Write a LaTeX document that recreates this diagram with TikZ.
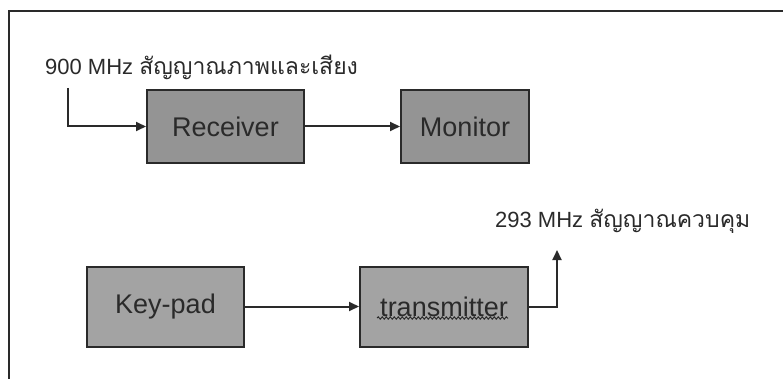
\documentclass[tikz,border=0pt]{standalone}
\usepackage{fontspec}
\setmainfont{Liberation Sans}
\newfontfamily\thaifont[Script=Thai]{Loma}
\usetikzlibrary{arrows.meta,decorations.pathmorphing}
\definecolor{ink}{HTML}{2A2A2A}
\begin{document}
\begin{tikzpicture}[x=1pt,y=-1pt,
  blockbox/.style={draw=ink, line width=2pt, fill=black!42, text=ink,
    minimum height=73pt, inner sep=0pt,
    font=\fontsize{27}{30}\selectfont},
  blocklight/.style={blockbox, fill=black!36, minimum height=80pt},
  conn/.style={draw=ink, line width=2pt,
    -{Triangle[length=10pt,width=9pt]}},
  frameline/.style={draw=ink, line width=1.6pt},
  lbl/.style={anchor=west, text=ink, inner sep=0pt,
    font=\fontsize{22}{26}\selectfont}]
\useasboundingbox (0,0) rectangle (783,379);
% frame
\draw[frameline] (9,379) -- (9,11) -- (783,11);
% top row
\node[blockbox, minimum width=157pt] (rec) at (225.5,126.5) {Receiver};
\node[blockbox, minimum width=128pt] (mon) at (465,126.5) {Monitor};
\node[lbl] (toplbl) at (45,67) {900 MHz {\thaifont\fontsize{23}{26}\selectfont สัญญาณภาพและเสียง}};
\coordinate (inp) at (68,88);
\draw[conn] (inp) |- (rec.west);
\draw[conn] (rec.east) -- (mon.west);
% bottom row
\node[blocklight, minimum width=157pt] (kp) at (165.5,306.5) {Key-pad};
\node[blocklight, minimum width=168pt] (tx) at (444,306.5) {transmitter};
\draw[ink, line width=1pt, decorate, decoration={snake, amplitude=1.1pt, segment length=4pt}]
  (377,318) -- (508,318);
\node[lbl] (botlbl) at (495,221) {293 MHz {\thaifont\fontsize{23}{26}\selectfont สัญญาณควบคุม}};
\coordinate (outp) at (557,250);
\draw[conn] (kp.east) -- (tx.west);
\draw[conn] (tx.east) -| (outp);
\end{tikzpicture}
\end{document}
